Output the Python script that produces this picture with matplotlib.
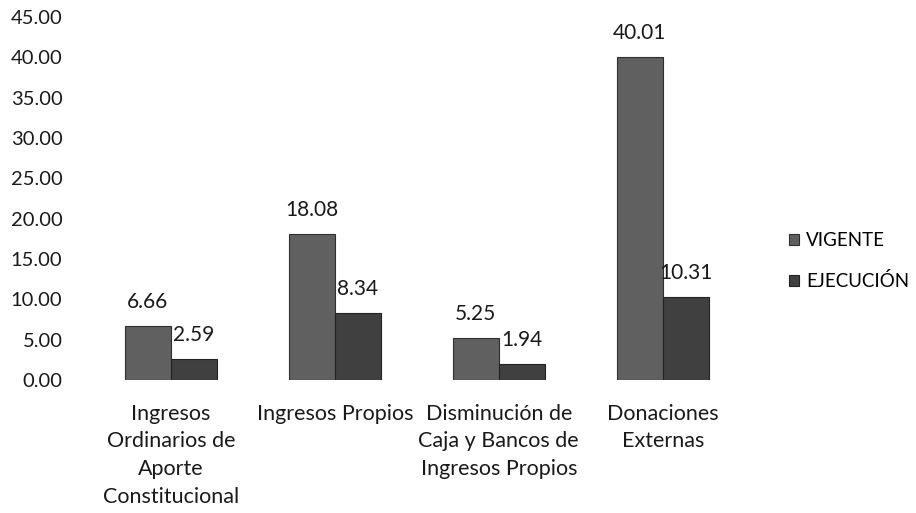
import numpy as np
import matplotlib.pyplot as plt

# Data
categories = ["Ingresos\nOrdinarios de\nAporte\nConstitucional",
              "Ingresos Propios",
              "Disminución de\nCaja y Bancos de\nIngresos Propios",
              "Donaciones\nExternas"]
vigente = [6.66, 18.08, 5.25, 40.01]
ejecucion = [2.59, 8.34, 1.94, 10.31]
yticks = [0, 5, 10, 15, 20, 25, 30, 35, 40, 45]

plt.rcParams['font.family'] = ['Lato', 'DejaVu Sans']

fig = plt.figure(figsize=(9.16, 5.13), dpi=100)
ax = fig.add_axes([0.097, 0.259, 0.716, 0.708])

x = np.arange(len(categories))
w = 0.28
b1 = ax.bar(x - w/2, vigente, w, color='#606060', edgecolor='#2e2e2e', linewidth=0.8, label='VIGENTE')
b2 = ax.bar(x + w/2, ejecucion, w, color='#404040', edgecolor='#222222', linewidth=0.8, label='EJECUCIÓN')

# value labels above each bar
for bars, vals in [(b1, vigente), (b2, ejecucion)]:
    for r, v in zip(bars, vals):
        ax.annotate(f"{v:.2f}", (r.get_x() + r.get_width()/2, v),
                    xytext=(0, 13), textcoords='offset points',
                    ha='center', va='baseline', fontsize=15, color='#1a1a1a')

ax.set_xlim(-0.5, len(categories) - 0.5)
ax.set_ylim(0, 45)
ax.set_yticks(yticks)
ax.set_yticklabels([f"{t:.2f}" for t in yticks], fontsize=14.5, color='#1a1a1a')
ax.set_xticks(x)
ax.set_xticklabels(categories, fontsize=15.5, color='#1a1a1a', linespacing=1.48, va='top')
ax.tick_params(axis='both', length=0)
ax.tick_params(axis='x', pad=17)
ax.tick_params(axis='y', pad=19)
for s in ax.spines.values():
    s.set_visible(False)

fig.legend(handles=[b1, b2], labels=['VIGENTE', 'EJECUCIÓN'],
           loc='center left', bbox_to_anchor=(0.861, 0.491),
           frameon=False, fontsize=13.5, handlelength=0.55, handleheight=0.55,
           handletextpad=0.37, labelspacing=1.25, borderpad=0, borderaxespad=0)

fig.savefig('out.png', dpi=100)
